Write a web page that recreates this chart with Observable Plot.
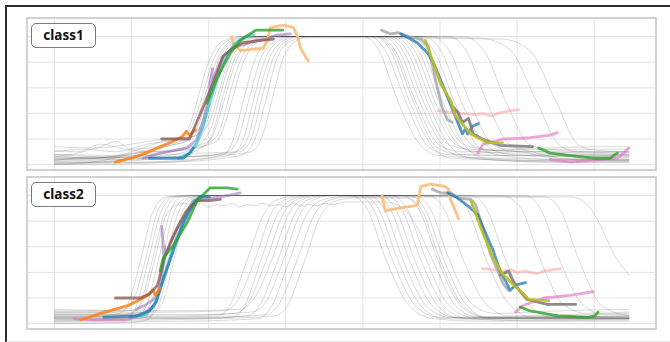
<!DOCTYPE html>
<html>
<head>
<meta charset="utf-8">
<script src="https://cdn.jsdelivr.net/npm/d3@7"></script>
<script src="https://cdn.jsdelivr.net/npm/@observablehq/plot@0.6"></script>
<style>
  html, body { margin: 0; padding: 0; background: #fff; }
  #wrap { position: relative; width: 670px; height: 342px; overflow: hidden; font-family: "Noto Sans", sans-serif; }
  #outer { position: absolute; left: 5px; top: 5px; width: 680px; height: 334px;
           border-top: 2px solid #2e2e2e; border-left: 2px solid #2e2e2e; border-bottom: 2px solid #e2e2e2; }
  .panel { position: absolute; left: 26px; width: 627px; height: 150px; border: 2px solid #d2d2d2; background: #fff; }
  .panel svg { display: block; }
  .tag { position: absolute; left: 31px; width: 63px; height: 23px; border: 1px solid #7a7a7a; border-radius: 5px;
         background: #fff; font-weight: 700; font-size: 13.5px; line-height: 23px; text-align: center; color: #111; }
</style>
</head>
<body>
<div id="wrap">
  <div id="outer"></div>
</div>
<script>
// ---------- data ----------
const panelNames = ["class1", "class2"];
const xTicks = [0, 1, 2, 3, 4, 5, 6, 7];
const yTicks = [0, 0.2, 0.4, 0.6, 0.8, 1.0];

// thin gray trajectories, class1
const grayClass1 = [
  [[0,0.04],[0.5,0.05],[1,0.08],[1.4,0.14],[1.6,0.2],[1.75,0.3],[1.85,0.5],[2.0,0.8],[2.15,0.95],[2.4,1],[4.0,1],[4.2,0.9],[4.45,0.5],[4.75,0.15],[5.0,0.07],[5.8,0.05],[6.6,0.04],[7.45,0.04]],
  [[0,0.1],[0.4,0.12],[0.8,0.1],[1.2,0.16],[1.6,0.2],[1.78,0.3],[1.9,0.5],[2.05,0.8],[2.2,0.95],[2.45,1],[4.1,1],[4.3,0.88],[4.55,0.5],[4.85,0.14],[5.1,0.08],[6.0,0.07],[7.45,0.06]],
  [[0,0.02],[0.5,0.02],[1,0.05],[1.5,0.15],[1.7,0.18],[1.82,0.3],[1.93,0.5],[2.08,0.78],[2.25,0.95],[2.5,1],[4.15,1],[4.35,0.9],[4.6,0.5],[4.9,0.14],[5.15,0.05],[6.5,0.03],[7.45,0.03]],
  [[0,0.06],[0.3,0.09],[0.6,0.14],[0.8,0.18],[1.0,0.12],[1.4,0.15],[1.7,0.2],[1.86,0.3],[1.97,0.5],[2.12,0.8],[2.3,0.96],[2.55,1],[4.2,1],[4.43,0.88],[4.68,0.5],[5.0,0.15],[5.3,0.1],[6.2,0.12],[7.0,0.1],[7.45,0.1]],
  [[0,0.0],[0.6,0.03],[1.1,0.1],[1.5,0.15],[1.75,0.2],[1.89,0.3],[2.0,0.5],[2.15,0.8],[2.32,0.95],[2.6,1],[4.25,1],[4.48,0.88],[4.73,0.5],[5.05,0.14],[5.3,0.06],[6.4,0.02],[7.45,0.02]],
  [[0,0.08],[0.7,0.06],[1.1,0.12],[1.5,0.2],[1.8,0.22],[1.93,0.3],[2.03,0.5],[2.18,0.78],[2.35,0.95],[2.6,1],[4.3,1],[4.53,0.88],[4.78,0.5],[5.1,0.16],[5.4,0.12],[6.3,0.1],[7.45,0.08]],
  [[0,0.03],[0.5,0.06],[1,0.06],[1.5,0.1],[1.8,0.15],[1.95,0.28],[2.06,0.5],[2.2,0.8],[2.38,0.96],[2.65,1],[4.35,1],[4.58,0.88],[4.83,0.5],[5.15,0.13],[5.4,0.05],[6.5,0.02],[7.45,0.02]],
  [[0,0.14],[0.5,0.13],[1.0,0.16],[1.4,0.2],[1.8,0.22],[2.0,0.32],[2.1,0.5],[2.25,0.8],[2.42,0.96],[2.7,1],[4.4,1],[4.63,0.88],[4.88,0.5],[5.2,0.16],[5.5,0.1],[6.2,0.08],[7.45,0.07]],
  [[0,0.05],[0.8,0.04],[1.3,0.06],[1.7,0.1],[1.95,0.2],[2.05,0.32],[2.13,0.5],[2.28,0.8],[2.45,0.95],[2.7,1],[4.45,1],[4.68,0.88],[4.93,0.5],[5.25,0.15],[5.5,0.09],[6.0,0.1],[6.5,0.05],[7.45,0.04]],
  [[0,0.01],[0.6,0.02],[1.2,0.04],[1.7,0.08],[2.0,0.18],[2.08,0.3],[2.17,0.5],[2.32,0.8],[2.5,0.95],[2.75,1],[4.5,1],[4.73,0.88],[4.98,0.5],[5.3,0.16],[5.6,0.12],[6.4,0.13],[7.0,0.14],[7.45,0.14]],
  [[0,0.07],[0.5,0.05],[1.0,0.09],[1.6,0.12],[2.0,0.18],[2.1,0.3],[2.2,0.5],[2.35,0.8],[2.52,0.95],[2.8,1],[4.55,1],[4.78,0.88],[5.03,0.5],[5.35,0.13],[5.6,0.05],[6.5,0.03],[7.45,0.03]],
  [[0,0.11],[0.3,0.1],[0.6,0.16],[0.9,0.12],[1.3,0.1],[1.8,0.12],[2.1,0.22],[2.17,0.32],[2.25,0.5],[2.4,0.8],[2.58,0.95],[2.85,1],[4.62,1],[4.85,0.88],[5.1,0.5],[5.42,0.15],[5.7,0.11],[6.6,0.1],[7.45,0.09]],
  [[0,0.04],[0.7,0.05],[1.2,0.08],[1.7,0.12],[2.1,0.18],[2.2,0.3],[2.3,0.5],[2.45,0.8],[2.62,0.95],[2.9,1],[4.7,1],[4.93,0.88],[5.18,0.5],[5.5,0.14],[5.8,0.07],[6.5,0.04],[7.45,0.05]],
  [[0,0.02],[1,0.02],[1.8,0.04],[2.2,0.08],[2.32,0.2],[2.45,0.5],[2.6,0.82],[2.78,0.96],[3.0,1],[4.8,1],[5.02,0.88],[5.27,0.5],[5.6,0.15],[5.9,0.08],[6.8,0.06],[7.45,0.06]],
  [[0,0.06],[1,0.05],[1.8,0.06],[2.25,0.1],[2.38,0.2],[2.52,0.5],[2.67,0.82],[2.85,0.96],[3.05,1],[4.9,1],[5.13,0.88],[5.38,0.5],[5.7,0.15],[6.0,0.1],[6.8,0.08],[7.45,0.07]],
  [[0,0.0],[1.2,0.01],[2.0,0.05],[2.3,0.08],[2.45,0.2],[2.58,0.5],[2.73,0.82],[2.9,0.96],[3.1,1],[5.1,1],[5.35,0.88],[5.6,0.5],[5.9,0.16],[6.2,0.1],[6.7,0.04],[7.45,0.03]],
  [[0,0.03],[1.0,0.04],[1.9,0.07],[2.35,0.1],[2.5,0.2],[2.63,0.5],[2.78,0.82],[2.95,0.96],[3.15,1],[5.3,1],[5.58,0.88],[5.85,0.5],[6.15,0.16],[6.4,0.12],[7.0,0.12],[7.45,0.12]],
  [[0,0.08],[1,0.07],[1.9,0.09],[2.4,0.1],[2.55,0.2],[2.68,0.5],[2.83,0.82],[3.0,0.96],[3.2,1],[5.5,0.99],[5.9,0.9],[6.25,0.5],[6.55,0.15],[6.8,0.1],[7.45,0.1]],
  [[0,0.01],[1.5,0.02],[2.2,0.05],[2.45,0.08],[2.6,0.2],[2.74,0.5],[2.88,0.82],[3.05,0.96],[3.25,0.99],[5.8,0.98],[6.15,0.9],[6.5,0.5],[6.8,0.15],[7.05,0.11],[7.45,0.1]],
  [[0,0.05],[1.5,0.06],[2.3,0.08],[2.55,0.1],[2.68,0.2],[2.82,0.5],[2.96,0.82],[3.12,0.96],[3.3,1],[4.17,1],[4.4,0.88],[4.65,0.5],[4.95,0.14],[5.25,0.08],[6.0,0.07],[7.45,0.08]]
];

// thin gray trajectories, class2
const grayClass2 = [
  [[0,0.06],[0.6,0.06],[0.85,0.08],[0.95,0.15],[1.12,0.5],[1.28,0.88],[1.45,0.99],[1.7,1],[3.85,1],[4.05,0.9],[4.3,0.5],[4.6,0.14],[4.9,0.04],[5.5,0.02],[7.45,0.03]],
  [[0,0.1],[0.5,0.1],[0.9,0.11],[1.02,0.18],[1.18,0.5],[1.34,0.88],[1.5,0.99],[1.75,1],[4.0,1],[4.2,0.9],[4.45,0.5],[4.75,0.14],[5.05,0.04],[6.0,0.03],[7.45,0.04]],
  [[0,0.02],[0.7,0.03],[0.95,0.05],[1.06,0.14],[1.22,0.5],[1.38,0.87],[1.55,0.99],[1.8,1],[4.15,1],[4.35,0.9],[4.6,0.5],[4.9,0.14],[5.2,0.05],[6.2,0.05],[7.45,0.06]],
  [[0,0.05],[0.8,0.06],[1.0,0.08],[1.11,0.15],[1.27,0.5],[1.43,0.87],[1.6,0.99],[1.85,1],[4.3,1],[4.5,0.9],[4.75,0.5],[5.05,0.14],[5.35,0.04],[6.4,0.02],[7.45,0.02]],
  [[0,0.09],[0.7,0.09],[1.05,0.11],[1.15,0.18],[1.3,0.5],[1.45,0.85],[1.6,0.93],[1.7,0.94],[1.8,0.92],[1.9,0.94],[2.0,0.91],[2.1,0.93],[2.2,0.92],[2.3,0.94],[2.4,0.91],[2.5,0.93],[2.6,0.92],[2.7,0.94],[2.8,0.92],[2.9,0.93],[3.0,0.91],[3.1,0.94],[3.2,0.92],[3.3,0.93],[3.4,0.92],[3.5,0.94],[3.6,0.93],[3.8,0.95],[4.1,0.95],[4.3,0.95],[4.6,0.85],[4.9,0.5],[5.2,0.14],[5.5,0.05],[6.5,0.05],[7.45,0.05]],
  [[0,0.03],[0.9,0.03],[1.1,0.06],[1.2,0.15],[1.35,0.5],[1.5,0.87],[1.65,0.99],[1.9,1],[4.6,1],[4.8,0.9],[5.05,0.5],[5.35,0.14],[5.65,0.04],[7.45,0.04]],
  [[0,0.07],[0.8,0.07],[1.15,0.09],[1.25,0.16],[1.4,0.5],[1.55,0.87],[1.7,0.98],[1.95,1],[4.85,1],[5.05,0.9],[5.3,0.5],[5.6,0.15],[5.9,0.06],[6.6,0.07],[7.45,0.08]],
  [[0,0.0],[1,0.01],[1.2,0.03],[1.3,0.12],[1.45,0.5],[1.6,0.86],[1.75,0.98],[2.0,1],[5.15,1],[5.35,0.9],[5.6,0.5],[5.9,0.15],[6.2,0.05],[7.45,0.05]],
  [[0,0.04],[1,0.04],[1.25,0.06],[1.35,0.14],[1.5,0.5],[1.65,0.86],[1.8,0.98],[2.05,1],[5.8,1],[6.05,0.9],[6.3,0.5],[6.6,0.15],[6.9,0.08],[7.45,0.09]],
  [[0,0.08],[1,0.08],[1.3,0.1],[1.4,0.16],[1.55,0.5],[1.7,0.86],[1.85,0.98],[2.1,1],[4.07,1],[4.27,0.9],[4.52,0.5],[4.82,0.14],[5.12,0.05],[6.0,0.04],[7.45,0.05]],
  [[0,0.05],[1.5,0.05],[2.1,0.06],[2.25,0.12],[2.5,0.5],[2.72,0.86],[2.9,0.97],[3.2,1],[3.95,1],[4.13,0.9],[4.38,0.5],[4.68,0.14],[4.98,0.05],[6.0,0.04],[7.45,0.03]],
  [[0,0.09],[1.4,0.09],[2.2,0.1],[2.35,0.16],[2.6,0.5],[2.82,0.87],[3.0,0.97],[3.3,1],[4.22,1],[4.42,0.9],[4.67,0.5],[4.97,0.14],[5.27,0.04],[7.45,0.04]],
  [[0,0.02],[1.5,0.03],[2.3,0.05],[2.45,0.12],[2.68,0.5],[2.9,0.86],[3.08,0.97],[3.35,1],[4.37,1],[4.57,0.9],[4.82,0.5],[5.12,0.14],[5.42,0.05],[7.45,0.06]],
  [[0,0.06],[1.5,0.06],[2.35,0.08],[2.5,0.15],[2.75,0.5],[2.97,0.86],[3.15,0.97],[3.4,1],[4.52,1],[4.72,0.9],[4.97,0.5],[5.27,0.14],[5.57,0.05],[7.45,0.04]],
  [[0,0.11],[1.4,0.1],[2.4,0.11],[2.57,0.18],[2.82,0.5],[3.04,0.86],[3.22,0.97],[3.5,1],[4.67,1],[4.87,0.9],[5.12,0.5],[5.42,0.15],[5.72,0.08],[6.5,0.1],[7.45,0.11]],
  [[0,0.03],[1.6,0.04],[2.5,0.06],[2.65,0.13],[2.9,0.5],[3.12,0.86],[3.3,0.97],[3.55,1],[5.4,1],[5.6,0.9],[5.85,0.5],[6.15,0.15],[6.45,0.05],[7.45,0.04]],
  [[0,0.07],[1.8,0.07],[2.55,0.09],[2.72,0.15],[2.97,0.5],[3.19,0.86],[3.37,0.97],[3.6,1],[6.1,1],[6.3,0.9],[6.55,0.5],[6.85,0.15],[7.15,0.07],[7.45,0.07]],
  [[0,0.01],[1.8,0.02],[2.65,0.04],[2.8,0.12],[3.05,0.5],[3.27,0.85],[3.45,0.96],[3.7,0.99],[6.35,0.99],[6.55,0.9],[6.8,0.5],[7.1,0.14],[7.45,0.06]],
  [[0,0.05],[2,0.05],[2.75,0.07],[2.9,0.14],[3.15,0.5],[3.37,0.85],[3.55,0.96],[3.8,0.99],[6.7,0.99],[6.95,0.9],[7.3,0.5],[7.45,0.38]],
  [[0,0.04],[2,0.04],[2.85,0.06],[3.0,0.12],[3.25,0.5],[3.45,0.84],[3.62,0.95],[3.85,0.98],[4.55,0.98],[4.75,0.9],[5.0,0.5],[5.3,0.14],[5.6,0.05],[7.45,0.05]]
];

// highlighted trajectories, class1
const class1Salmon    = [[4.98,0.42],[5.1,0.41],[5.3,0.4],[5.45,0.39],[5.55,0.4],[5.66,0.38],[5.75,0.4],[5.82,0.41],[5.9,0.42],[6.02,0.43]];
const class1LightOrange = [[2.3,1.0],[2.32,0.94],[2.41,0.89],[2.71,0.91],[2.76,0.97],[2.8,1.07],[2.97,1.09],[3.1,1.07],[3.16,0.99],[3.19,0.91],[3.29,0.81]];
const class1LightGray = [[4.24,1.05],[4.36,1.02],[4.46,1.03],[4.6,1.0],[4.75,0.98],[4.85,0.92],[4.95,0.64],[5.03,0.44],[5.1,0.35],[5.16,0.33]];
const class1Purple    = [[1.15,0.05],[1.37,0.09],[1.54,0.11],[1.71,0.13],[1.84,0.19],[1.93,0.34],[2.0,0.52],[2.05,0.75],[2.01,0.6],[2.08,0.7],[2.18,0.84],[2.31,0.91],[2.41,0.93],[2.63,0.97],[2.76,0.98],[2.87,1.01],[3.06,1.02]];
const class1Cyan      = [[1.61,0.05],[1.76,0.09],[1.85,0.17],[1.93,0.3],[2.02,0.5],[2.13,0.7],[2.23,0.85],[2.35,0.95],[2.48,1.0],[2.58,1.01]];
const class1Blue      = [[1.23,0.05],[1.67,0.05],[1.75,0.09],[1.8,0.13]];
const class1Orange    = [[0.79,0.02],[0.99,0.05],[1.18,0.09],[1.37,0.14],[1.53,0.18],[1.66,0.22],[1.71,0.26],[1.75,0.23],[1.83,0.27]];
const class1Brown     = [[1.39,0.2],[1.75,0.2],[1.88,0.38],[2.06,0.64],[2.19,0.85],[2.32,0.91],[2.43,0.95],[2.67,0.97],[2.84,0.98]];
const class1Green     = [[1.98,0.48],[2.11,0.68],[2.28,0.87],[2.41,0.97],[2.61,1.05],[2.76,1.05],[2.96,1.05]];
const class1BlueLate  = [[4.49,1.02],[4.62,0.98],[4.71,0.95],[4.84,0.87],[4.92,0.79],[5.05,0.6],[5.17,0.42],[5.29,0.24],[5.33,0.28],[5.36,0.24],[5.42,0.3],[5.5,0.32]];
const class1DarkGray  = [[5.17,0.45],[5.23,0.41],[5.29,0.33],[5.37,0.36],[5.43,0.24],[5.55,0.2],[5.78,0.15],[6.2,0.14]];
const class1Olive     = [[4.81,0.97],[5.01,0.63],[5.14,0.5],[5.2,0.38],[5.4,0.24],[5.62,0.17],[5.81,0.17]];
const class1Pink      = [[5.49,0.09],[5.56,0.16],[5.82,0.2],[6.17,0.21],[6.43,0.23],[6.52,0.25]];
const class1GreenLate = [[6.28,0.13],[6.43,0.09],[6.69,0.07],[6.99,0.05],[7.21,0.05],[7.25,0.07],[7.3,0.09]];
const class1PinkLate  = [[6.43,0.04],[6.69,0.02],[7.08,0.04],[7.3,0.05],[7.38,0.09],[7.45,0.13]];

// highlighted trajectories, class2
const class2Salmon    = [[5.55,0.43],[5.7,0.42],[5.82,0.41],[5.92,0.42],[6.0,0.4],[6.1,0.41],[6.17,0.4],[6.26,0.39],[6.34,0.41],[6.45,0.42],[6.56,0.43]];
const class2LightOrange = [[4.25,1.0],[4.29,0.88],[4.45,0.9],[4.66,0.92],[4.71,0.93],[4.75,1.07],[4.88,1.09],[5.07,1.07],[5.11,1.05],[5.14,0.96],[5.2,0.88],[5.24,0.82]];
const class2LightGray = [[4.9,1.05],[5.01,1.02],[5.14,1.02],[5.24,0.98],[5.4,0.97],[5.46,0.93],[5.56,0.74],[5.65,0.55],[5.75,0.41],[5.82,0.31],[5.89,0.26]];
const class2Purple    = [[1.06,0.11],[1.19,0.15],[1.31,0.2],[1.38,0.32],[1.42,0.53],[1.39,0.76],[1.41,0.62],[1.45,0.55],[1.52,0.66],[1.62,0.78],[1.76,0.9],[1.85,0.96],[2.15,0.99],[2.32,1.01],[2.41,1.02]];
const class2Pink      = [[0.25,0.04],[0.51,0.03],[0.93,0.03],[1.15,0.07],[1.26,0.13]];
const class2Cyan      = [[0.97,0.05],[1.19,0.07],[1.28,0.13],[1.36,0.25],[1.45,0.43],[1.57,0.65],[1.7,0.84],[1.8,0.96],[1.93,0.99]];
const class2Blue      = [[0.64,0.05],[1.06,0.06],[1.23,0.1],[1.32,0.17],[1.41,0.34],[1.53,0.55],[1.66,0.77],[1.76,0.89],[1.88,0.99],[2.01,0.99]];
const class2Orange    = [[0.34,0.03],[0.6,0.08],[0.95,0.14],[1.21,0.22],[1.28,0.26],[1.31,0.22],[1.37,0.28]];
const class2Brown     = [[0.79,0.2],[1.11,0.2],[1.22,0.23],[1.34,0.3],[1.44,0.54],[1.57,0.72],[1.7,0.87],[1.83,0.96],[2.01,0.96],[2.15,0.97]];
const class2Green     = [[1.37,0.41],[1.41,0.51],[1.54,0.61],[1.73,0.8],[1.85,0.96],[2.02,1.06],[2.24,1.06],[2.37,1.05]];
const class2BlueLate  = [[5.1,1.02],[5.23,0.98],[5.36,0.92],[5.49,0.85],[5.56,0.75],[5.69,0.57],[5.78,0.41],[5.87,0.31],[5.91,0.26],[5.98,0.3],[6.04,0.31],[6.11,0.32]];
const class2DarkGray  = [[5.78,0.38],[5.89,0.41],[5.94,0.34],[6.0,0.28],[6.13,0.19],[6.39,0.15],[6.76,0.15]];
const class2Olive     = [[5.4,0.96],[5.56,0.7],[5.69,0.51],[5.81,0.39],[5.94,0.31],[6.07,0.24],[6.15,0.19],[6.41,0.18]];
const class2PinkLate  = [[5.98,0.09],[6.07,0.14],[6.34,0.2],[6.69,0.22],[6.99,0.25]];
const class2GreenLate = [[6.04,0.13],[6.17,0.1],[6.53,0.06],[6.92,0.05],[7.01,0.06],[7.05,0.09]];

// ---------- styles (kept apart from data) ----------
const look = {
  salmon:    {stroke: "#ff9896", op: 0.5},
  lightOrange:{stroke: "#ffbb78", op: 0.9},
  lightGray: {stroke: "#a9a9a9", op: 0.85},
  purple:    {stroke: "#9467bd", op: 0.55},
  pink:      {stroke: "#e377c2", op: 0.65},
  cyan:      {stroke: "#17becf", op: 0.6},
  blue:      {stroke: "#1f77b4", op: 0.75},
  orange:    {stroke: "#ff7f0e", op: 0.85},
  brown:     {stroke: "#8c564b", op: 0.75},
  green:     {stroke: "#2ca02c", op: 0.8},
  darkGray:  {stroke: "#7f7f7f", op: 0.9},
  olive:     {stroke: "#bcbd22", op: 0.9}
};

const highlights = {
  class1: [
    ["salmon", class1Salmon], ["lightOrange", class1LightOrange], ["lightGray", class1LightGray],
    ["purple", class1Purple], ["pink", class1Pink], ["pink", class1PinkLate], ["cyan", class1Cyan],
    ["blue", class1Blue], ["blue", class1BlueLate], ["orange", class1Orange], ["brown", class1Brown],
    ["green", class1Green], ["green", class1GreenLate], ["darkGray", class1DarkGray], ["olive", class1Olive]
  ],
  class2: [
    ["salmon", class2Salmon], ["lightOrange", class2LightOrange], ["lightGray", class2LightGray],
    ["purple", class2Purple], ["pink", class2Pink], ["pink", class2PinkLate], ["cyan", class2Cyan],
    ["blue", class2Blue], ["blue", class2BlueLate], ["orange", class2Orange], ["brown", class2Brown],
    ["green", class2Green], ["green", class2GreenLate], ["darkGray", class2DarkGray], ["olive", class2Olive]
  ]
};
const grays = {class1: grayClass1, class2: grayClass2};

// ---------- drawing ----------
const wrap = document.getElementById("wrap");
const panelTops = [17, 176];

panelNames.forEach((name, i) => {
  const grayRows = grays[name].flatMap((pts, k) => pts.map(([x, y]) => ({x, y, id: k})));
  const marks = [
    Plot.gridX(xTicks, {stroke: "#e4e4e4", strokeOpacity: 1, strokeWidth: 1}),
    Plot.gridY(yTicks, {stroke: "#e4e4e4", strokeOpacity: 1, strokeWidth: 1}),
    Plot.line(grayRows, {x: "x", y: "y", z: "id", stroke: "#4a4a4a", strokeOpacity: 0.26, strokeWidth: 0.8, curve: "monotone-x"})
  ];
  for (const [key, pts] of highlights[name]) {
    const st = look[key];
    marks.push(Plot.line(pts, {x: d => d[0], y: d => d[1], stroke: st.stroke, strokeOpacity: st.op,
      strokeWidth: 2.8, strokeLinejoin: "round", strokeLinecap: "round"}));
  }
  const svg = Plot.plot({
    width: 627, height: 150, margin: 0,
    x: {domain: [-0.337, 7.795], axis: null},
    y: {domain: [-0.038, 1.133], axis: null},
    style: {background: "transparent", overflow: "hidden"},
    marks
  });
  const div = document.createElement("div");
  div.className = "panel";
  div.style.top = panelTops[i] + "px";
  div.appendChild(svg);
  wrap.appendChild(div);

  const tag = document.createElement("div");
  tag.className = "tag";
  tag.style.top = (panelTops[i] + (i === 0 ? 6 : 6)) + "px";
  tag.textContent = name;
  wrap.appendChild(tag);
});
</script>
</body>
</html>
